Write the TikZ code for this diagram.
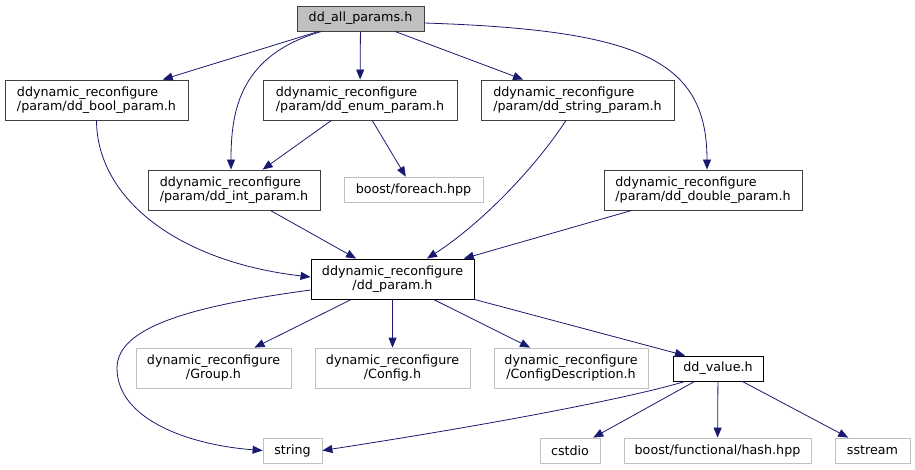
\documentclass[tikz,border=0pt]{standalone}
\usepackage{fontspec}
\newfontfamily\dv{DejaVu Sans}
\usetikzlibrary{arrows.meta,calc}
\definecolor{edgec}{HTML}{191970}
\definecolor{boxc}{HTML}{404040}
\definecolor{extc}{HTML}{BFBFBF}
\tikzset{
  base/.style={font=\dv\fontsize{12.7}{14.5}\selectfont, inner sep=0pt, fill=white, line width=0.9pt},
  box/.style={base, draw=boxc, align=left},
  cbox/.style={base, draw=black, align=center},
  ext/.style={base, draw=extc, align=center, line width=0.8pt},
  e/.style={draw=edgec, line width=0.8pt, -{Triangle[length=10pt,width=8pt]}}
}
\begin{document}
\begin{tikzpicture}[x=1pt,y=-1pt]
\useasboundingbox (0,0) rectangle (915,469);
\node[box, fill=extc, minimum width=127pt, minimum height=25pt, align=center] (all) at (360.5,18.5) {dd\_all\_params.h};
\node[box, minimum width=183pt, minimum height=40pt] (bool) at (96.5,100) {ddynamic\_reconfigure\\/param/dd\_bool\_param.h};
\node[box, minimum width=194pt, minimum height=40pt] (enum) at (360,100) {ddynamic\_reconfigure\\/param/dd\_enum\_param.h};
\node[box, minimum width=193pt, minimum height=40pt] (strp) at (577.5,100) {ddynamic\_reconfigure\\/param/dd\_string\_param.h};
\node[box, minimum width=172pt, minimum height=40pt] (int) at (234,190) {ddynamic\_reconfigure\\/param/dd\_int\_param.h};
\node[ext, minimum width=139pt, minimum height=25pt] (foreach) at (413.5,189.5) {boost/foreach.hpp};
\node[box, minimum width=198pt, minimum height=40pt] (double) at (703,190) {ddynamic\_reconfigure\\/param/dd\_double\_param.h};
\node[cbox, minimum width=163pt, minimum height=40pt] (param) at (392.5,279) {ddynamic\_reconfigure\\/dd\_param.h};
\node[ext, minimum width=155pt, minimum height=40pt] (group) at (213.5,368) {dynamic\_reconfigure\\/Group.h};
\node[ext, minimum width=155pt, minimum height=40pt] (config) at (392.5,368) {dynamic\_reconfigure\\/Config.h};
\node[ext, minimum width=154pt, minimum height=40pt] (cdesc) at (571,368) {dynamic\_reconfigure\\/ConfigDescription.h};
\node[cbox, minimum width=90pt, minimum height=25pt] (value) at (718,368.5) {dd\_value.h};
\node[ext, minimum width=59pt, minimum height=25pt] (string) at (292.5,450.5) {string};
\node[ext, minimum width=60pt, minimum height=25pt] (cstdio) at (570,450.5) {cstdio};
\node[ext, minimum width=187pt, minimum height=25pt] (hash) at (717.5,450.5) {boost/functional/hash.hpp};
\node[ext, minimum width=75pt, minimum height=25pt] (sstream) at (872.5,450.5) {sstream};

\draw[e] (all) -- (bool);
\draw[e] ([xshift=25pt]all.south west) .. controls (240,55) and (231,110) .. ([xshift=-3pt]int.north);
\draw[e] (all) -- (enum);
\draw[e] (all) -- (strp);
\draw[e] ([yshift=-4.5pt]all.east) .. controls (640,30) and (707,60) .. ([xshift=4pt]double.north);
\draw[e] (enum) -- (int);
\draw[e] (enum) -- (foreach);
\draw[e] (bool.south) .. controls (97,200) and (180,262) .. ([yshift=2pt]param.west);
\draw[e] (int) -- (param);
\draw[e] ([xshift=-11.5pt]strp.south) .. controls (530,175) and (475,228) .. ([xshift=34.5pt]param.north);
\draw[e] (double) -- (param);
\draw[e] ([yshift=-11pt]param.west) .. controls (200,305) and (117,325) .. (117,368) .. controls (117,420) and (190,445) .. (string.west);
\draw[e] (param) -- (group);
\draw[e] (param) -- (config);
\draw[e] (param) -- (cdesc);
\draw[e] (param.south east) -- ([xshift=-33pt]value.north);
\draw[e] ([xshift=-33pt]value.south) .. controls (640,395) and (520,420) .. (string.east);
\draw[e] (value) -- (cstdio);
\draw[e] (value) -- (hash);
\draw[e] (value) -- (sstream);
\end{tikzpicture}
\end{document}
